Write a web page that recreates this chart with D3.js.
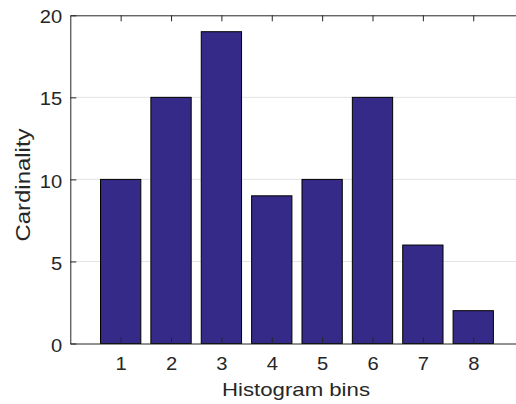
<!DOCTYPE html>
<html><head><meta charset="utf-8">
<script src="https://cdn.jsdelivr.net/npm/d3@7"></script>
<style>html,body{margin:0;padding:0;background:#fff;}svg{display:block;}</style>
</head><body>
<script>
const categories = [1, 2, 3, 4, 5, 6, 7, 8];
const counts = [10, 15, 19, 9, 10, 15, 6, 2];
const yTicks = [0, 5, 10, 15, 20];
const xLabel = "Histogram bins";
const yLabel = "Cardinality";

const W = 516, H = 404;
const L = 70.3, R = 523.6, T = 15.3, B = 343.5;
const sx = 1.12; // horizontal stretch of glyphs seen in reference
const font = "'Liberation Sans', Arial, Helvetica, sans-serif";
const axisColor = "#262626";

const svg = d3.select("body").append("svg").attr("width", W).attr("height", H);

const x = d3.scaleLinear().domain([0, 9]).range([L, R]);
const y = d3.scaleLinear().domain([0, 20]).range([B, T]);
const bw = (x(1) - x(0)) * 0.8;

// grid
svg.append("g").selectAll("line").data(yTicks.filter(d => d > 0 && d < 20)).join("line")
  .attr("x1", L).attr("x2", R).attr("y1", d => y(d)).attr("y2", d => y(d))
  .attr("stroke", "#e3e3e3").attr("stroke-width", 1);

// bars
svg.append("g").selectAll("rect").data(counts).join("rect")
  .attr("x", (d, i) => x(categories[i]) - bw / 2)
  .attr("y", d => y(d))
  .attr("width", bw)
  .attr("height", d => y(0) - y(d))
  .attr("fill", "#352a87")
  .attr("stroke", "#000").attr("stroke-width", 1);

// axes
const xAxisB = d3.axisBottom(x).tickValues(categories).tickSizeInner(-6).tickSizeOuter(0);
const xAxisT = d3.axisTop(x).tickValues(categories).tickSizeInner(-6).tickSizeOuter(0).tickFormat("");
const yAxisL = d3.axisLeft(y).tickValues(yTicks).tickSizeInner(-6).tickSizeOuter(0);

function style(g) {
  g.select(".domain").attr("stroke", axisColor).attr("stroke-width", 1);
  g.selectAll(".tick line").attr("stroke", axisColor).attr("stroke-width", 1);
  g.selectAll(".tick text").attr("fill", axisColor).attr("font-family", font).attr("font-size", 18);
}
const gb = svg.append("g").attr("transform", `translate(0,${B})`).call(xAxisB).call(style);
gb.selectAll(".tick text").attr("dy", null).attr("y", 26.5)
  .attr("transform", `scale(${sx},1)`);
svg.append("g").attr("transform", `translate(0,${T})`).call(xAxisT).call(style);
const gl = svg.append("g").attr("transform", `translate(${L},0)`).call(yAxisL).call(style);
gl.selectAll(".tick text").attr("dy", null).attr("dominant-baseline", "central").attr("y", 1.5)
  .attr("x", -8 / sx).attr("transform", `scale(${sx},1)`);

// axis titles
svg.append("text")
  .attr("transform", `translate(296,396)`)
  .attr("text-anchor", "middle").attr("font-family", font).attr("font-size", 19)
  .attr("textLength", 148).attr("lengthAdjust", "spacingAndGlyphs")
  .attr("fill", axisColor).text(xLabel);
svg.append("text")
  .attr("transform", `translate(29.5,185) rotate(-90)`)
  .attr("text-anchor", "middle").attr("font-family", font).attr("font-size", 19.5)
  .attr("textLength", 113).attr("lengthAdjust", "spacingAndGlyphs")
  .attr("fill", axisColor).text(yLabel);
</script>
</body></html>
